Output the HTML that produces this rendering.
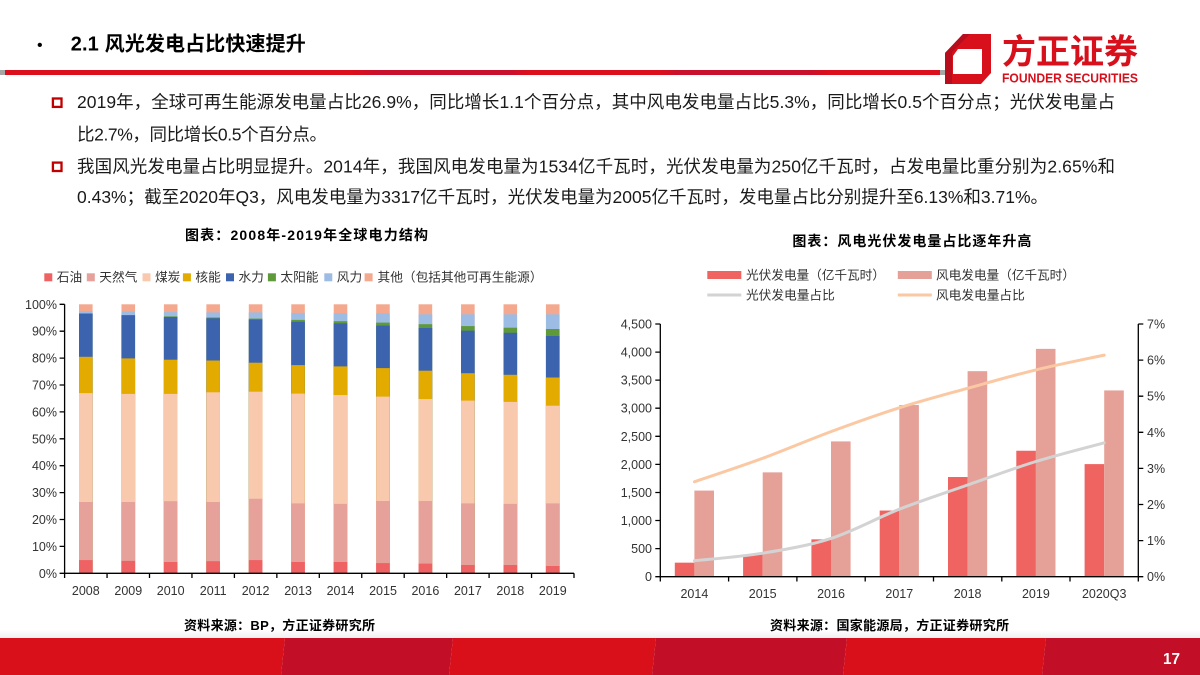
<!DOCTYPE html>
<html><head><meta charset="utf-8">
<style>
html,body{margin:0;padding:0;background:#fff;}
svg{display:block;}
text{font-family:"Liberation Sans","Noto Sans CJK SC",sans-serif;}
.ax{font-size:12.5px;fill:#333;}
</style></head>
<body>
<svg width="1200" height="675" viewBox="0 0 1200 675" xmlns="http://www.w3.org/2000/svg">
<defs>
<linearGradient id="rl" x1="0" x2="1" y1="0" y2="0">
<stop offset="0" stop-color="#dc0f1c"/><stop offset="0.37" stop-color="#dc0f1c"/>
<stop offset="0.40" stop-color="#c9102c"/><stop offset="0.54" stop-color="#c9102c"/>
<stop offset="0.56" stop-color="#dc0f1c"/><stop offset="0.70" stop-color="#dc0f1c"/>
<stop offset="0.72" stop-color="#c9102c"/><stop offset="0.86" stop-color="#c9102c"/>
<stop offset="0.88" stop-color="#dc0f1c"/><stop offset="1" stop-color="#dc0f1c"/>
</linearGradient>
<linearGradient id="sh" x1="0" x2="0" y1="0" y2="1">
<stop offset="0" stop-color="#fff"/><stop offset="1" stop-color="#f0f0f0"/>
</linearGradient>
</defs>

<!-- footer shade (behind text) -->
<rect x="0" y="630" width="1200" height="8" fill="url(#sh)"/>

<!-- header -->
<text x="37" y="50" font-size="16" fill="#000">•</text>
<text x="70.7" y="50.5" font-size="20" font-weight="bold" fill="#000" textLength="235">2.1 风光发电占比快速提升</text>
<rect x="0" y="70" width="5" height="5" fill="#a6a6a6"/>
<rect x="5" y="70" width="935" height="5" fill="url(#rl)"/>
<rect x="940" y="70" width="10" height="5" fill="#a6a6a6"/>

<!-- logo -->
<polygon points="963,34 991,34 991,73 981,84 945,84 945,53" fill="#d7101c"/>
<polygon points="958,49 982,49 982,74 953,74 953,56" fill="#fff"/>
<polygon points="945,53 963,34 970,34 952,52 952,84 945,84" fill="#b80d1c"/>
<text x="1002" y="63.5" font-size="34" font-weight="bold" fill="#d7101c" textLength="136" lengthAdjust="spacingAndGlyphs">方正证券</text>
<text x="1002" y="82.7" font-size="13" font-weight="bold" fill="#d7101c" textLength="136" lengthAdjust="spacingAndGlyphs">FOUNDER SECURITIES</text>

<!-- body text -->
<rect x="52.9" y="98.5" width="8.6" height="8.4" fill="none" stroke="#c00000" stroke-width="2.3"/>
<rect x="52.9" y="162.6" width="8.6" height="8.4" fill="none" stroke="#c00000" stroke-width="2.3"/>
<g font-size="17.5" fill="#1a1a1a">
<text x="77" y="108" textLength="1038">2019年，全球可再生能源发电量占比26.9%，同比增长1.1个百分点，其中风电发电量占比5.3%，同比增长0.5个百分点；光伏发电量占</text>
<text x="77" y="140.3" textLength="250">比2.7%，同比增长0.5个百分点。</text>
<text x="77" y="172.5" textLength="1038">我国风光发电量占比明显提升。2014年，我国风电发电量为1534亿千瓦时，光伏发电量为250亿千瓦时，占发电量比重分别为2.65%和</text>
<text x="77" y="203" textLength="971">0.43%；截至2020年Q3，风电发电量为3317亿千瓦时，光伏发电量为2005亿千瓦时，发电量占比分别提升至6.13%和3.71%。</text>
</g>

<!-- LEFT CHART -->
<text x="185" y="240" font-size="14" font-weight="bold" fill="#000" textLength="243">图表：2008年-2019年全球电力结构</text>
<g font-size="12.7" fill="#333">
<rect x="44.3" y="273.3" width="8" height="8" fill="#ef6264"/><text x="56.8" y="281.7">石油</text>
<rect x="86.8" y="273.3" width="8" height="8" fill="#e6a19a"/><text x="99.3" y="281.7">天然气</text>
<rect x="142.5" y="273.3" width="8" height="8" fill="#f9c9ad"/><text x="155" y="281.7">煤炭</text>
<rect x="182.9" y="273.3" width="8" height="8" fill="#e3aa00"/><text x="195.4" y="281.7">核能</text>
<rect x="226" y="273.3" width="8" height="8" fill="#3b63ae"/><text x="238.5" y="281.7">水力</text>
<rect x="267.9" y="273.3" width="8" height="8" fill="#5e9a3a"/><text x="280.4" y="281.7">太阳能</text>
<rect x="324.3" y="273.3" width="8" height="8" fill="#9dbce3"/><text x="336.8" y="281.7">风力</text>
<rect x="364.6" y="273.3" width="8" height="8" fill="#f4a98f"/><text x="377.5" y="281.7" textLength="165">其他（包括其他可再生能源）</text>
</g>

<g id="bars">
<g transform="translate(79,0)">
<rect y="304.3" width="13.6" height="269" fill="#f4a98f"/><rect y="311.0" width="13.6" height="262.3" fill="#9dbce3"/><rect y="313.4" width="13.6" height="259.9" fill="#5e9a3a"/><rect y="313.7" width="13.6" height="259.6" fill="#3b63ae"/><rect y="356.8" width="13.6" height="216.5" fill="#e3aa00"/><rect y="393.1" width="13.6" height="180.2" fill="#f9c9ad"/><rect y="502.0" width="13.6" height="71.3" fill="#e6a19a"/><rect y="560.1" width="13.6" height="13.2" fill="#ef6264"/></g>
<g transform="translate(121.45,0)">
<rect y="304.3" width="13.6" height="269" fill="#f4a98f"/><rect y="311.5" width="13.6" height="261.8" fill="#9dbce3"/><rect y="315.1" width="13.6" height="258.2" fill="#5e9a3a"/><rect y="315.3" width="13.6" height="258" fill="#3b63ae"/><rect y="358.4" width="13.6" height="214.9" fill="#e3aa00"/><rect y="393.9" width="13.6" height="179.4" fill="#f9c9ad"/><rect y="502.0" width="13.6" height="71.3" fill="#e6a19a"/><rect y="560.9" width="13.6" height="12.4" fill="#ef6264"/></g>
<g transform="translate(163.9,0)">
<rect y="304.3" width="13.6" height="269" fill="#f4a98f"/><rect y="312.1" width="13.6" height="261.2" fill="#9dbce3"/><rect y="316.4" width="13.6" height="256.9" fill="#5e9a3a"/><rect y="317.0" width="13.6" height="256.3" fill="#3b63ae"/><rect y="359.7" width="13.6" height="213.6" fill="#e3aa00"/><rect y="393.9" width="13.6" height="179.4" fill="#f9c9ad"/><rect y="501.2" width="13.6" height="72.1" fill="#e6a19a"/><rect y="562.0" width="13.6" height="11.3" fill="#ef6264"/></g>
<g transform="translate(206.35,0)">
<rect y="304.3" width="13.6" height="269" fill="#f4a98f"/><rect y="312.4" width="13.6" height="260.9" fill="#9dbce3"/><rect y="317.5" width="13.6" height="255.8" fill="#5e9a3a"/><rect y="318.3" width="13.6" height="255" fill="#3b63ae"/><rect y="360.5" width="13.6" height="212.8" fill="#e3aa00"/><rect y="392.3" width="13.6" height="181" fill="#f9c9ad"/><rect y="502.0" width="13.6" height="71.3" fill="#e6a19a"/><rect y="561.2" width="13.6" height="12.1" fill="#ef6264"/></g>
<g transform="translate(248.8,0)">
<rect y="304.3" width="13.6" height="269" fill="#f4a98f"/><rect y="312.4" width="13.6" height="260.9" fill="#9dbce3"/><rect y="318.6" width="13.6" height="254.7" fill="#5e9a3a"/><rect y="319.6" width="13.6" height="253.7" fill="#3b63ae"/><rect y="362.7" width="13.6" height="210.6" fill="#e3aa00"/><rect y="391.7" width="13.6" height="181.6" fill="#f9c9ad"/><rect y="498.8" width="13.6" height="74.5" fill="#e6a19a"/><rect y="560.1" width="13.6" height="13.2" fill="#ef6264"/></g>
<g transform="translate(291.25,0)">
<rect y="304.3" width="13.6" height="269" fill="#f4a98f"/><rect y="312.9" width="13.6" height="260.4" fill="#9dbce3"/><rect y="319.9" width="13.6" height="253.4" fill="#5e9a3a"/><rect y="321.8" width="13.6" height="251.5" fill="#3b63ae"/><rect y="365.1" width="13.6" height="208.2" fill="#e3aa00"/><rect y="393.6" width="13.6" height="179.7" fill="#f9c9ad"/><rect y="503.4" width="13.6" height="69.9" fill="#e6a19a"/><rect y="562.0" width="13.6" height="11.3" fill="#ef6264"/></g>
<g transform="translate(333.7,0)">
<rect y="304.3" width="13.6" height="269" fill="#f4a98f"/><rect y="313.2" width="13.6" height="260.1" fill="#9dbce3"/><rect y="321.2" width="13.6" height="252.1" fill="#5e9a3a"/><rect y="323.4" width="13.6" height="249.9" fill="#3b63ae"/><rect y="366.4" width="13.6" height="206.9" fill="#e3aa00"/><rect y="395.0" width="13.6" height="178.3" fill="#f9c9ad"/><rect y="503.9" width="13.6" height="69.4" fill="#e6a19a"/><rect y="562.0" width="13.6" height="11.3" fill="#ef6264"/></g>
<g transform="translate(376.15,0)">
<rect y="304.3" width="13.6" height="269" fill="#f4a98f"/><rect y="313.4" width="13.6" height="259.9" fill="#9dbce3"/><rect y="322.6" width="13.6" height="250.7" fill="#5e9a3a"/><rect y="325.6" width="13.6" height="247.7" fill="#3b63ae"/><rect y="368.1" width="13.6" height="205.2" fill="#e3aa00"/><rect y="396.6" width="13.6" height="176.7" fill="#f9c9ad"/><rect y="501.0" width="13.6" height="72.3" fill="#e6a19a"/><rect y="563.1" width="13.6" height="10.2" fill="#ef6264"/></g>
<g transform="translate(418.6,0)">
<rect y="304.3" width="13.6" height="269" fill="#f4a98f"/><rect y="314.3" width="13.6" height="259" fill="#9dbce3"/><rect y="324.2" width="13.6" height="249.1" fill="#5e9a3a"/><rect y="328.0" width="13.6" height="245.3" fill="#3b63ae"/><rect y="370.7" width="13.6" height="202.6" fill="#e3aa00"/><rect y="399.0" width="13.6" height="174.3" fill="#f9c9ad"/><rect y="501.0" width="13.6" height="72.3" fill="#e6a19a"/><rect y="563.6" width="13.6" height="9.7" fill="#ef6264"/></g>
<g transform="translate(461.05,0)">
<rect y="304.3" width="13.6" height="269" fill="#f4a98f"/><rect y="314.3" width="13.6" height="259" fill="#9dbce3"/><rect y="326.1" width="13.6" height="247.2" fill="#5e9a3a"/><rect y="330.7" width="13.6" height="242.6" fill="#3b63ae"/><rect y="373.2" width="13.6" height="200.1" fill="#e3aa00"/><rect y="400.6" width="13.6" height="172.7" fill="#f9c9ad"/><rect y="503.4" width="13.6" height="69.9" fill="#e6a19a"/><rect y="565.0" width="13.6" height="8.3" fill="#ef6264"/></g>
<g transform="translate(503.5,0)">
<rect y="304.3" width="13.6" height="269" fill="#f4a98f"/><rect y="314.3" width="13.6" height="259" fill="#9dbce3"/><rect y="327.7" width="13.6" height="245.6" fill="#5e9a3a"/><rect y="332.8" width="13.6" height="240.5" fill="#3b63ae"/><rect y="374.8" width="13.6" height="198.5" fill="#e3aa00"/><rect y="401.9" width="13.6" height="171.4" fill="#f9c9ad"/><rect y="503.9" width="13.6" height="69.4" fill="#e6a19a"/><rect y="565.0" width="13.6" height="8.3" fill="#ef6264"/></g>
<g transform="translate(545.95,0)">
<rect y="304.3" width="13.6" height="269" fill="#f4a98f"/><rect y="314.3" width="13.6" height="259" fill="#9dbce3"/><rect y="329.0" width="13.6" height="244.3" fill="#5e9a3a"/><rect y="336.0" width="13.6" height="237.3" fill="#3b63ae"/><rect y="377.5" width="13.6" height="195.8" fill="#e3aa00"/><rect y="405.7" width="13.6" height="167.6" fill="#f9c9ad"/><rect y="503.4" width="13.6" height="69.9" fill="#e6a19a"/><rect y="566.0" width="13.6" height="7.3" fill="#ef6264"/></g>
</g>

<g stroke="#000" stroke-width="1.3" fill="none">
<path d="M64.6 304.3 V573.3 H574"/>
<path d="M59.6 573.3H64.6 M59.6 546.4H64.6 M59.6 519.5H64.6 M59.6 492.6H64.6 M59.6 465.7H64.6 M59.6 438.8H64.6 M59.6 411.9H64.6 M59.6 385.0H64.6 M59.6 358.1H64.6 M59.6 331.2H64.6 M59.6 304.3H64.6"/>
<path d="M64.6 573.3V578 M107.05 573.3V578 M149.5 573.3V578 M191.95 573.3V578 M234.4 573.3V578 M276.85 573.3V578 M319.3 573.3V578 M361.75 573.3V578 M404.2 573.3V578 M446.65 573.3V578 M489.1 573.3V578 M531.55 573.3V578 M574 573.3V578"/>
</g>
<g class="ax" text-anchor="end">
<text x="57" y="577.8">0%</text><text x="57" y="550.9">10%</text><text x="57" y="524">20%</text><text x="57" y="497.1">30%</text><text x="57" y="470.2">40%</text><text x="57" y="443.3">50%</text><text x="57" y="416.4">60%</text><text x="57" y="389.5">70%</text><text x="57" y="362.6">80%</text><text x="57" y="335.7">90%</text><text x="57" y="308.8">100%</text>
</g>
<g class="ax" text-anchor="middle">
<text x="85.8" y="595.2">2008</text><text x="128.3" y="595.2">2009</text><text x="170.7" y="595.2">2010</text><text x="213.2" y="595.2">2011</text><text x="255.6" y="595.2">2012</text><text x="298.1" y="595.2">2013</text><text x="340.5" y="595.2">2014</text><text x="383" y="595.2">2015</text><text x="425.4" y="595.2">2016</text><text x="467.9" y="595.2">2017</text><text x="510.3" y="595.2">2018</text><text x="552.8" y="595.2">2019</text>
</g>

<!-- RIGHT CHART -->
<text x="792.4" y="246" font-size="14" font-weight="bold" fill="#000" textLength="239">图表：风电光伏发电量占比逐年升高</text>
<g font-size="12.7" fill="#333">
<rect x="707.3" y="271" width="34" height="8" fill="#ef6461"/><text x="746" y="279.5" textLength="139">光伏发电量（亿千瓦时）</text>
<rect x="897.8" y="271" width="34" height="8" fill="#e5a198"/><text x="936" y="279.5" textLength="139">风电发电量（亿千瓦时）</text>
<line x1="707.3" y1="295" x2="741.3" y2="295" stroke="#d3d3d3" stroke-width="3"/><text x="746" y="299.5">光伏发电量占比</text>
<line x1="897.8" y1="295" x2="931.8" y2="295" stroke="#fbc8a4" stroke-width="3"/><text x="936" y="299.5">风电发电量占比</text>
</g>

<g fill="#ef6461">
<rect x="674.8" y="562.66" width="19.6" height="14.04"/>
<rect x="743.1" y="554.52" width="19.6" height="22.18"/>
<rect x="811.4" y="539.36" width="19.6" height="37.34"/>
<rect x="879.7" y="510.55" width="19.6" height="66.15"/>
<rect x="948.0" y="477.02" width="19.6" height="99.68"/>
<rect x="1016.3" y="450.74" width="19.6" height="125.96"/>
<rect x="1084.6" y="464.11" width="19.6" height="112.59"/>
</g>
<g fill="#e5a198">
<rect x="694.4" y="490.56" width="19.6" height="86.14"/>
<rect x="762.7" y="472.36" width="19.6" height="104.34"/>
<rect x="831.0" y="441.42" width="19.6" height="135.28"/>
<rect x="899.3" y="405.03" width="19.6" height="171.67"/>
<rect x="967.6" y="371.17" width="19.6" height="205.53"/>
<rect x="1035.9" y="348.87" width="19.6" height="227.83"/>
<rect x="1104.2" y="390.43" width="19.6" height="186.27"/>
</g>

<path d="M694.4 481.8 C705.8 477.9 739.9 466.7 762.7 458.3 C785.5 449.9 808.3 440.0 831.0 431.6 C853.8 423.2 876.5 415.0 899.3 407.8 C922.1 400.6 944.8 394.6 967.6 388.3 C990.4 382.0 1013.1 375.4 1035.9 369.9 C1058.7 364.4 1092.8 357.6 1104.2 355.1" fill="none" stroke="#fbc8a4" stroke-width="3" stroke-linecap="round"/>
<path d="M694.4 560.8 C705.8 559.5 739.9 556.9 762.7 553.2 C785.5 549.5 808.3 545.7 831.0 538.4 C853.8 531.1 876.5 518.1 899.3 509.2 C922.1 500.3 944.8 493.0 967.6 485.0 C990.4 477.1 1013.1 468.5 1035.9 461.5 C1058.7 454.5 1092.8 445.9 1104.2 442.8" fill="none" stroke="#d3d3d3" stroke-width="3" stroke-linecap="round"/>

<g stroke="#000" stroke-width="1.3" fill="none">
<path d="M660.3 324 V576.7 H1138.3 V324"/>
<path d="M655.3 576.7H660.3 M655.3 548.6H660.3 M655.3 520.5H660.3 M655.3 492.5H660.3 M655.3 464.4H660.3 M655.3 436.3H660.3 M655.3 408.2H660.3 M655.3 380.1H660.3 M655.3 352.1H660.3 M655.3 324H660.3"/>
<path d="M1138.3 576.7H1143.3 M1138.3 540.6H1143.3 M1138.3 504.5H1143.3 M1138.3 468.4H1143.3 M1138.3 432.3H1143.3 M1138.3 396.2H1143.3 M1138.3 360.1H1143.3 M1138.3 324H1143.3"/>
<path d="M660.3 576.7V581.5 M728.6 576.7V581.5 M796.9 576.7V581.5 M865.2 576.7V581.5 M933.5 576.7V581.5 M1001.8 576.7V581.5 M1070 576.7V581.5 M1138.3 576.7V581.5"/>
</g>
<g class="ax" text-anchor="end">
<text x="652" y="581.2">0</text><text x="652" y="553.1">500</text><text x="652" y="525">1,000</text><text x="652" y="497">1,500</text><text x="652" y="468.9">2,000</text><text x="652" y="440.8">2,500</text><text x="652" y="412.7">3,000</text><text x="652" y="384.6">3,500</text><text x="652" y="356.6">4,000</text><text x="652" y="328.5">4,500</text>
</g>
<g class="ax">
<text x="1147" y="581.2">0%</text><text x="1147" y="545.1">1%</text><text x="1147" y="509">2%</text><text x="1147" y="472.9">3%</text><text x="1147" y="436.8">4%</text><text x="1147" y="400.7">5%</text><text x="1147" y="364.6">6%</text><text x="1147" y="328.5">7%</text>
</g>
<g class="ax" text-anchor="middle">
<text x="694.4" y="597.8">2014</text><text x="762.7" y="597.8">2015</text><text x="831" y="597.8">2016</text><text x="899.3" y="597.8">2017</text><text x="967.6" y="597.8">2018</text><text x="1035.9" y="597.8">2019</text><text x="1104.2" y="597.8">2020Q3</text>
</g>

<!-- sources -->
<text x="184" y="630" font-size="13" font-weight="bold" fill="#000" textLength="191">资料来源：BP，方正证券研究所</text>
<text x="770" y="630" font-size="13" font-weight="bold" fill="#000" textLength="239">资料来源：国家能源局，方正证券研究所</text>

<!-- footer -->
<polygon points="0,638 285,638 281,675 0,675" fill="#d90f19"/>
<polygon points="285,638 453,638 449,675 281,675" fill="#c20f27"/>
<polygon points="453,638 656,638 652,675 449,675" fill="#d90f19"/>
<polygon points="656,638 847,638 843,675 652,675" fill="#c20f27"/>
<polygon points="847,638 1046,638 1042,675 843,675" fill="#d90f19"/>
<polygon points="1046,638 1200,638 1200,675 1042,675" fill="#c20f27"/>
<text x="1163" y="664" font-size="16" font-weight="bold" fill="#fff" textLength="17" lengthAdjust="spacingAndGlyphs">17</text>
</svg>
</body></html>
